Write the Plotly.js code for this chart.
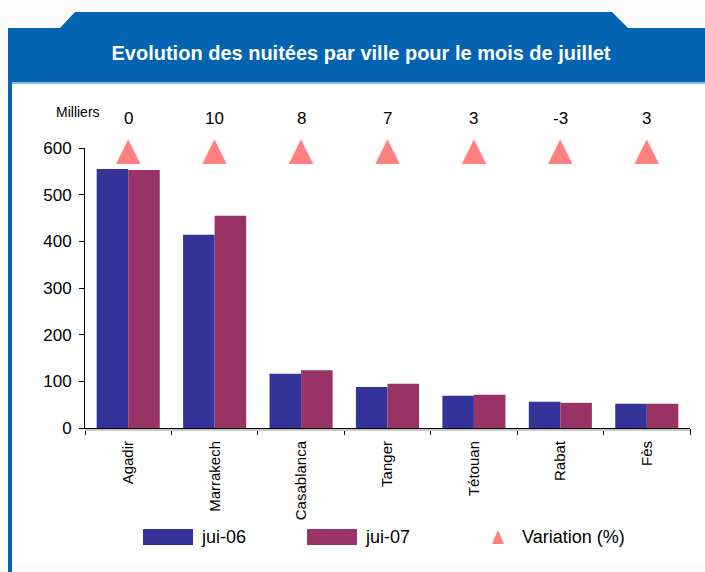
<!DOCTYPE html>
<html>
<head>
<meta charset="utf-8">
<script src="https://cdn.plot.ly/plotly-3.0.1.min.js"></script>
<style>
  body { margin: 0; background: #ffffff; }
  #wrap { position: relative; width: 705px; height: 572px; overflow: hidden; }
  #frame { position: absolute; left: 0; top: 0; }
  #chart { position: absolute; left: 0; top: 0; width: 705px; height: 572px; }
</style>
</head>
<body>
<div id="wrap">
  <!-- blue frame with the tab header, drawn behind the transparent plot -->
  <svg id="frame" width="705" height="572">
    <rect x="0" y="0" width="705" height="572" fill="#fbfbfb"/>
    <rect x="12" y="83" width="693" height="482" fill="#ffffff"/>
    <polygon points="8,28 60,28 75,12 612,12 628,28 705,28 705,83 8,83" fill="#0564b2"/>
    <rect x="8" y="82" width="697" height="2" fill="#8fb8df"/>
    <rect x="8" y="28" width="4" height="544" fill="#0564b2"/>
  </svg>
  <div id="chart"></div>
</div>
<script>
// Data (milliers de nuitées)
const cities = ['Agadir', 'Marrakech', 'Casablanca', 'Tanger', 'Tétouan', 'Rabat', 'Fès'];
const jui06 = [555, 414, 116, 88, 69, 56, 52];
const jui07 = [553, 455, 124, 95, 71, 54, 52];
const variation = [0, 10, 8, 7, 3, -3, 3];

const seriesNames = ['jui-06', 'jui-07', 'Variation (%)'];
const colors = { jui06: '#333399', jui07: '#993366', variation: '#ff8080' };
const font = 'Arial, "Liberation Sans", sans-serif';

// plot area in pixels (used to place the hand-drawn legend and labels)
const W = 705, H = 572;
const plotL = 85, plotR = 690, plotT = 148, plotB = 428;
const px = x => (x - plotL) / (plotR - plotL);
const py = y => (plotB - y) / (plotB - plotT);

const traces = [];

traces.push({
    x: cities,
    y: jui06,
    type: 'bar',
    name: seriesNames[0],
    marker: { color: colors.jui06 },
    hoverinfo: 'x+y'
});

traces.push({
    x: cities,
    y: jui07,
    type: 'bar',
    name: seriesNames[1],
    marker: { color: colors.jui07 },
    hoverinfo: 'x+y'
});

// Variation row: equilateral triangles along the top of the plot
traces.push({
    x: cities,
    y: cities.map(() => 0.985),
    yaxis: 'y2',
    type: 'scatter',
    mode: 'text',
    name: seriesNames[2],
    text: cities.map(() => '▲'),
    textposition: 'middle center',
    textfont: { family: '"DejaVu Sans"', size: 32, color: colors.variation },
    cliponaxis: false,
    hoverinfo: 'skip'
});

// values of the variation, written above the triangles
const annotations = variation.map((v, i) => ({
    text: String(v), x: cities[i], xref: 'x', y: py(119), yref: 'paper',
    showarrow: false, xanchor: 'center', yanchor: 'middle',
    font: { family: font, size: 17, color: '#000' }
}));

// Legend drawn by hand (wide swatches like the original)
const legendY = 537;
const shapes = [
    { type: 'rect', xref: 'paper', yref: 'paper', x0: px(143), x1: px(193), y0: py(legendY + 8), y1: py(legendY - 8),
      fillcolor: colors.jui06, line: { width: 0 } },
    { type: 'rect', xref: 'paper', yref: 'paper', x0: px(307), x1: px(357), y0: py(legendY + 8), y1: py(legendY - 8),
      fillcolor: colors.jui07, line: { width: 0 } },
    { type: 'path', xref: 'paper', yref: 'paper',
      path: `M ${px(492)} ${py(legendY + 7)} L ${px(504)} ${py(legendY + 7)} L ${px(498)} ${py(legendY - 7)} Z`,
      fillcolor: colors.variation, line: { width: 0 } },
    // light shadow under the category axis
    { type: 'line', xref: 'paper', yref: 'paper', x0: 0, x1: 1, y0: py(plotB + 2), y1: py(plotB + 2),
      line: { color: '#c8c8c8', width: 2 } }
];

annotations.push(
    { text: 'Milliers', xref: 'paper', yref: 'paper', x: px(78), y: py(112), showarrow: false,
      xanchor: 'center', yanchor: 'middle', font: { family: font, size: 14, color: '#000' } },
    { text: seriesNames[0], xref: 'paper', yref: 'paper', x: px(199), y: py(legendY), showarrow: false,
      xanchor: 'left', yanchor: 'middle', font: { family: font, size: 18, color: '#000' } },
    { text: seriesNames[1], xref: 'paper', yref: 'paper', x: px(363), y: py(legendY), showarrow: false,
      xanchor: 'left', yanchor: 'middle', font: { family: font, size: 18, color: '#000' } },
    { text: seriesNames[2], xref: 'paper', yref: 'paper', x: px(520), y: py(legendY), showarrow: false,
      xanchor: 'left', yanchor: 'middle', font: { family: font, size: 18, color: '#000' } }
);

const layout = {
    width: W,
    height: H,
    title: {
        text: '<b>Evolution des nuitées par ville pour le mois de juillet</b>',
        font: { family: font, size: 20, color: '#ffffff' },
        x: 361 / W,
        xanchor: 'center',
        xref: 'container',
        y: 1 - 53 / H,
        yanchor: 'middle',
        yref: 'container'
    },
    paper_bgcolor: 'rgba(0,0,0,0)',
    plot_bgcolor: 'rgba(0,0,0,0)',
    margin: { l: plotL, r: W - plotR, t: plotT, b: H - plotB, pad: 0 },
    barmode: 'group',
    bargap: 0.27,
    bargroupgap: 0,
    showlegend: false,
    xaxis: {
        type: 'category',
        tickson: 'boundaries',
        ticks: 'outside',
        ticklen: 6,
        tickcolor: '#000',
        tickangle: -90,
        tickfont: { family: font, size: 15, color: '#000' },
        ticklabelstandoff: 6,
        showline: true,
        linecolor: '#000',
        linewidth: 1,
        showgrid: false,
        zeroline: false,
        fixedrange: true
    },
    yaxis: {
        range: [0, 600],
        dtick: 100,
        ticks: 'outside',
        ticklen: 5,
        tickcolor: '#000',
        tickfont: { family: font, size: 17, color: '#000' },
        ticklabelstandoff: 4,
        showline: true,
        linecolor: '#000',
        linewidth: 1,
        showgrid: false,
        zeroline: false,
        fixedrange: true
    },
    yaxis2: {
        range: [0, 1],
        overlaying: 'y',
        visible: false,
        fixedrange: true
    },
    shapes: shapes,
    annotations: annotations
};

Plotly.newPlot('chart', traces, layout, { displayModeBar: false, staticPlot: true });
</script>
</body>
</html>
